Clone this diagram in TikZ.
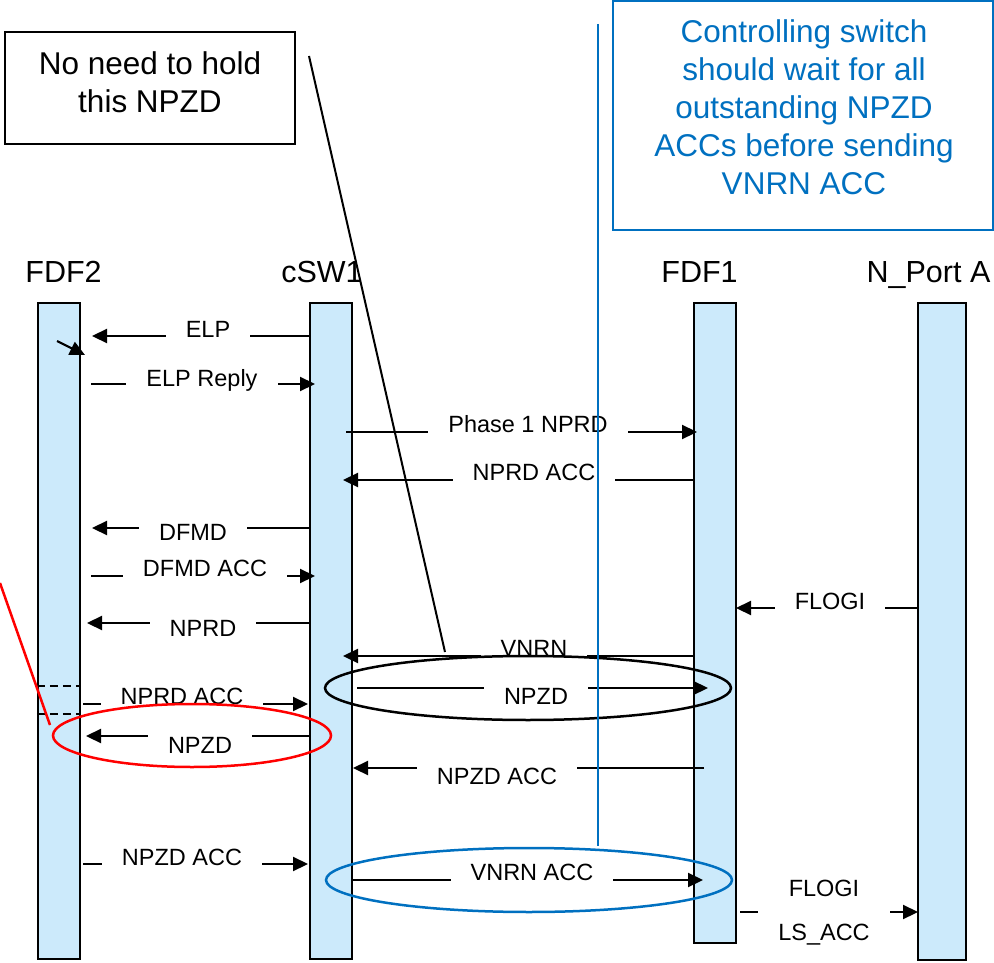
\documentclass[tikz,border=0pt]{standalone}
\usepackage{fontspec}
\setmainfont{Liberation Sans}
\usetikzlibrary{arrows.meta}
\definecolor{lifeBlue}{HTML}{CCEAFB}
\definecolor{noteBlue}{HTML}{0070C0}
\definecolor{noteRed}{HTML}{FF0000}
\tikzset{
  lifebar/.style = {draw=black, fill=lifeBlue, line width=2.5pt, minimum width=42pt,
                    inner sep=0pt},
  hd/.style      = {font=\fontsize{30.5}{36}\selectfont, text height=22pt, text depth=0pt,
                    inner sep=0pt},
  ar/.style      = {-{Triangle[length=15pt,width=14pt]}, line width=2.2pt},
  lbl/.style     = {font=\fontsize{23.5}{28}\selectfont, fill=white, inner xsep=20pt,
                    inner ysep=5pt, text height=16.8pt, text depth=0pt},
  note/.style    = {font=\fontsize{31.5}{38}\selectfont, align=center, inner sep=0pt},
  ring/.style    = {line width=2.5pt},
}

\begin{document}
\begin{tikzpicture}[x=1pt, y=-1pt]
  \useasboundingbox (0,0) rectangle (994,963);
  % lifelines
  \node[lifebar, minimum height=656pt] (fdf2) at (59,631) {};
  \node[lifebar, minimum height=656pt] (csw1) at (331,631) {};
  \node[lifebar, minimum height=640pt] (fdf1) at (715,623) {};
  \node[lifebar, minimum height=657pt, minimum width=48pt] (nport) at (942,631.5) {};
  \node[hd] (hfdf2) at (63.5,271) {FDF2};
  \node[hd] (hcsw1) at (322,271) {cSW1};
  \node[hd] (hfdf1) at (699.5,271) {FDF1};
  \node[hd] (hnport) at (928.5,271) {N\_Port A};
  % messages: name/start/end/y/label x/label y/text
  \foreach \n/\xa/\xb/\y/\lx/\ly/\txt in {
      elp/310/92/336/208/329/ELP,
      elpr/91/315/384/202/378/ELP Reply,
      ph1/346/697/432/528/424/Phase 1 NPRD,
      nprdacc/694/343/480/534/472/NPRD ACC,
      dfmd/310/92/528/193/532/DFMD,
      dfmdacc/91/315/576/205/568/DFMD ACC,
      nprd/310/87/623/203/628/NPRD,
      flogi/918/736/608/830/601/FLOGI,
      vnrn/694/343/656/534/648/VNRN,
      npzd/357/708/688/536/696/NPZD,
      nprdacc2/83/308/704/182/696/NPRD ACC,
      npzd2/310/86/736/200/745/NPZD,
      npzdacc/704/353/768/497/776/NPZD ACC,
      npzdacc2/83/308/864/182/857/NPZD ACC,
      vnrnacc/353/703/880/532/872/VNRN ACC}
  {
    \coordinate (\n-s) at (\xa,\y);
    \coordinate (\n-e) at (\xb,\y);
    \draw[ar] (\n-s) -- (\n-e);
    \node[lbl] (\n-l) at (\lx,\ly) {\txt};
  }
  \coordinate (lsacc-s) at (740,912);
  \coordinate (lsacc-e) at (918,912);
  \draw[ar] (lsacc-s) -- (lsacc-e);
  \node[font=\fontsize{23.5}{44}\selectfont, fill=white, inner xsep=20pt, inner ysep=3pt,
        align=center] (lsacc-l) at (824,912.5) {FLOGI\\LS\_ACC};
  % dashed marks on FDF2
  \foreach \y in {686,714}
    \draw[line width=2.6pt, dash pattern=on 8pt off 5pt] (fdf2.west |- 0,\y) -- (fdf2.east |- 0,\y);
  % highlight rings
  \draw[ring] (528,688) ellipse [x radius=203, y radius=32];
  \draw[ring, noteRed] (192,735.5) ellipse [x radius=139, y radius=31.5];
  \draw[ring, noteBlue] (529,880) ellipse [x radius=203, y radius=32];
  % controlling switch note
  \coordinate (split-t) at (598,24);
  \coordinate (split-b) at (598,846);
  \draw[noteBlue, line width=2pt] (split-t) -- (split-b);
  \node[draw=noteBlue, line width=2pt, minimum width=380pt, minimum height=229pt,
        inner sep=0pt] (ctrlbox) at (803,115.5) {};
  \node[note, text=noteBlue] (ctrltxt) at (804,107)
    {Controlling switch\\should wait for all\\outstanding NPZD\\ACCs before sending\\VNRN ACC};
  % hold note
  \node[draw, line width=2pt, minimum width=290pt, minimum height=112pt, inner sep=0pt]
    (holdbox) at (150,88) {};
  \node[note] (holdtxt) at (150,82.5) {No need to hold\\this NPZD};
  \coordinate (pin-a) at (309,56);
  \coordinate (pin-b) at (445,652);
  \draw[line width=2pt] (pin-a) -- (pin-b);
  \coordinate (red-a) at (0,583);
  \coordinate (red-b) at (50,725);
  \draw[noteRed, line width=2.5pt] (red-a) -- (red-b);
  \coordinate (tick-a) at (57,341);
  \coordinate (tick-b) at (85,355);
  \draw[ar] (tick-a) -- (tick-b);
\end{tikzpicture}
\end{document}
